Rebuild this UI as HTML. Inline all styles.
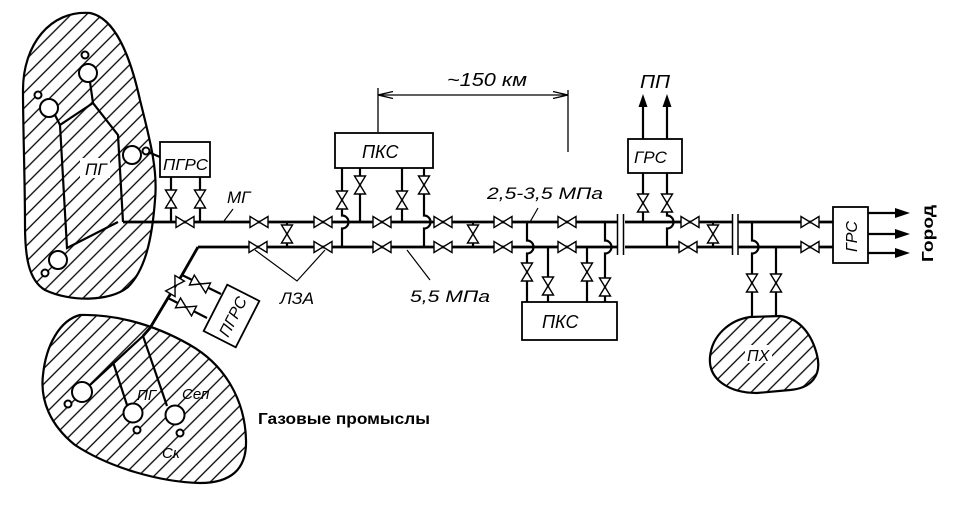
<!DOCTYPE html>
<html><head><meta charset="utf-8"><style>
html,body{margin:0;padding:0;background:#fff;}
svg{display:block;}
text{font-family:"Liberation Sans","DejaVu Sans",sans-serif;fill:#000;}
.i{font-style:italic;}
</style></head><body>
<svg width="960" height="512" viewBox="0 0 960 512" xmlns="http://www.w3.org/2000/svg">
<defs>
<pattern id="h" patternUnits="userSpaceOnUse" width="11" height="11" patternTransform="rotate(45)">
<line x1="5.5" y1="-1" x2="5.5" y2="12" stroke="#000" stroke-width="1.3"/>
</pattern>
<g id="vh"><path d="M-9 -5.5 L0 0 L-9 5.5 Z M9 -5.5 L0 0 L9 5.5 Z" fill="#fff" stroke="#000" stroke-width="1.4"/></g>
<g id="vv"><path d="M-5.5 -9 L0 0 L5.5 -9 Z M-5.5 9 L0 0 L5.5 9 Z" fill="#fff" stroke="#000" stroke-width="1.4"/></g>
</defs>

<!-- Left blob ПГ -->
<path d="M90 13 C115 18,130 55,140 100 C150 140,158 170,155 200 C152 240,145 270,128 287 C110 302,70 302,45 290 C28 280,25 255,25 225 C25 180,23 130,23 90 C23 45,50 10,90 13 Z" fill="url(#h)" stroke="#000" stroke-width="2.2"/>
<g fill="none" stroke="#000" stroke-width="2.2">
<path d="M90 82 L93 103 L118 135 L123 222"/>
<path d="M93 103 L60 125 L67 248 L118 222"/>
<path d="M55 115 L60 125"/>
<line x1="148" y1="152" x2="160" y2="157"/>
</g>
<g fill="#fff" stroke="#000" stroke-width="2">
<circle cx="88" cy="73" r="9"/><circle cx="85" cy="55" r="3.5"/>
<circle cx="49" cy="108" r="9"/><circle cx="38" cy="95" r="3.5"/>
<circle cx="132" cy="155" r="9"/><circle cx="146" cy="151" r="3.5"/>
<circle cx="58" cy="260" r="9"/><circle cx="45" cy="273" r="3.5"/>
</g>
<rect x="80" y="158" width="30" height="20" fill="#fff"/>
<text x="85" y="175" class="i" font-size="17">ПГ</text>

<!-- Top ПГРС -->
<rect x="160" y="142" width="50" height="35" fill="#fff" stroke="#000" stroke-width="1.8"/>
<text x="163" y="170" class="i" font-size="16" textLength="45" lengthAdjust="spacingAndGlyphs">ПГРС</text>
<g stroke="#000" stroke-width="2.2" fill="none">
<path d="M171 177 V222"/><path d="M200 177 V222"/>
</g>

<!-- Main lines -->
<g stroke="#000" stroke-width="2.8" fill="none">
<path d="M123 222 H617 M625 222 H732 M738 222 H833"/>
<path d="M198 247 H617 M625 247 H732 M738 247 H833"/>
<path d="M198 247 L182 275 L168 298 L150 328 L143 336"/>
</g>
<g stroke="#000" stroke-width="1.5" fill="none">
<path d="M617.5 214 V255 M623.5 214 V255 M732.5 214 V255 M738 214 V255"/>
</g>
<!-- cross connections -->
<g stroke="#000" stroke-width="2.2" fill="none">
<path d="M287 222 V247 M473 222 V247 M713 222 V247"/>
</g>

<!-- МГ -->
<text x="227" y="203" class="i" font-size="17">МГ</text>
<path d="M233 209 L224 221" stroke="#000" stroke-width="1.2"/>

<!-- ЛЗА -->
<path d="M255 250 L297 281 L325 250" stroke="#000" stroke-width="1.2" fill="none"/>
<text x="280" y="304" class="i" font-size="17" textLength="34" lengthAdjust="spacingAndGlyphs">ЛЗА</text>

<!-- Top ПКС -->
<rect x="335" y="133" width="98" height="35" fill="#fff" stroke="#000" stroke-width="1.8"/>
<text x="362" y="158" class="i" font-size="18">ПКС</text>
<g stroke="#000" stroke-width="2.2" fill="none">
<path d="M342 168 V215.5 A6.5 6.5 0 0 1 342 228.5 V247"/>
<path d="M360 168 V222"/>
<path d="M402 168 V222"/>
<path d="M424 168 V215.5 A6.5 6.5 0 0 1 424 228.5 V247"/>
</g>

<!-- Dimension -->
<g stroke="#000" stroke-width="1.3" fill="none">
<path d="M378 132 V88 M568 152 V90 M378 95 H568"/>
<path d="M393 91.5 L378 95 L393 98.5 M553 91.5 L568 95 L553 98.5"/>
</g>
<text x="447" y="86" class="i" font-size="18" textLength="80" lengthAdjust="spacingAndGlyphs">~150 км</text>

<!-- pressure labels -->
<text x="487" y="199" class="i" font-size="17" textLength="116" lengthAdjust="spacingAndGlyphs">2,5-3,5 МПа</text>
<path d="M538 208 L530 222" stroke="#000" stroke-width="1.2"/>
<text x="410" y="302" class="i" font-size="17" textLength="80" lengthAdjust="spacingAndGlyphs">5,5 МПа</text>
<path d="M407 250 L430 280" stroke="#000" stroke-width="1.2"/>

<!-- Lower ПКС -->
<rect x="522" y="302" width="95" height="38" fill="#fff" stroke="#000" stroke-width="1.8"/>
<text x="542" y="328" class="i" font-size="18">ПКС</text>
<g stroke="#000" stroke-width="2.2" fill="none">
<path d="M527 222 V240.5 A6.5 6.5 0 0 1 527 253.5 V302"/>
<path d="M548 247 V302"/>
<path d="M587 247 V302"/>
<path d="M605 222 V240.5 A6.5 6.5 0 0 1 605 253.5 V302"/>
</g>

<!-- Top ГРС -->
<rect x="628" y="139" width="54" height="34" fill="#fff" stroke="#000" stroke-width="1.8"/>
<text x="634" y="163" class="i" font-size="17">ГРС</text>
<g stroke="#000" stroke-width="2.2" fill="none">
<path d="M643 173 V222"/>
<path d="M667 173 V215.5 A6.5 6.5 0 0 1 667 228.5 V247"/>
<path d="M643 139 V104 M667 139 V104"/>
</g>
<polygon points="643,94 638.5,107 647.5,107" fill="#000"/>
<polygon points="667,94 662.5,107 671.5,107" fill="#000"/>
<text x="640" y="88" class="i" font-size="18" textLength="30" lengthAdjust="spacingAndGlyphs">ПП</text>

<!-- ПХ -->
<path d="M750 317 C730 320,712 335,710 357 C708 380,730 393,757 393 L790 390 C812 388,822 375,817 355 C812 335,800 318,780 316 Z" fill="url(#h)" stroke="#000" stroke-width="2.2"/>
<g stroke="#000" stroke-width="2.2" fill="none">
<path d="M752 222 V240.5 A6.5 6.5 0 0 1 752 253.5 V317"/>
<path d="M776 247 V317"/>
</g>
<rect x="745" y="345" width="27" height="18" fill="#fff"/>
<text x="747" y="361" class="i" font-size="16">ПХ</text>

<!-- Right ГРС -->
<rect x="833" y="207" width="35" height="56" fill="#fff" stroke="#000" stroke-width="1.8"/>
<text transform="translate(857,252) rotate(-90)" class="i" font-size="16">ГРС</text>
<g stroke="#000" stroke-width="2.2" fill="none">
<path d="M868 213 H898 M868 234 H898 M868 253 H898"/>
</g>
<polygon points="910,213 895,208 895,218" fill="#000"/>
<polygon points="910,234 895,229 895,239" fill="#000"/>
<polygon points="910,253 895,248 895,258" fill="#000"/>
<text transform="translate(933,262) rotate(-90)" font-size="16" font-weight="bold" textLength="57" lengthAdjust="spacingAndGlyphs">Город</text>

<!-- Lower gas field blob -->
<path d="M80 315 C110 314,150 322,190 345 C225 365,245 400,246 440 C247 470,230 483,200 483 C160 482,110 468,75 445 C50 425,40 400,43 375 C46 345,60 320,80 315 Z" fill="url(#h)" stroke="#000" stroke-width="2.2"/>
<g stroke="#000" stroke-width="2.2" fill="none">
<path d="M143 336 L90 385 M113 362 L127 405 M143 336 L167 406"/>
<path d="M182 275 L221 294 M168 298 L207 318"/>
</g>
<g fill="#fff" stroke="#000" stroke-width="2">
<circle cx="82" cy="392" r="10"/><circle cx="68" cy="404" r="3.5"/>
<circle cx="133" cy="413" r="9.5"/><circle cx="137" cy="430" r="3.5"/>
<circle cx="175" cy="415" r="9.5"/><circle cx="180" cy="433" r="3.5"/>
</g>
<text x="137" y="400" class="i" font-size="15">ПГ</text>
<text x="182" y="399" class="i" font-size="15">Сеп</text>
<text x="162" y="458" class="i" font-size="15">Ск</text>

<!-- lower ПГРС rotated -->
<g transform="translate(231.5,316) rotate(-63)">
<rect x="-26" y="-18" width="52" height="36" fill="#fff" stroke="#000" stroke-width="1.8"/>
<text x="0" y="7" class="i" font-size="16" text-anchor="middle">ПГРС</text>
</g>

<text x="258" y="424" font-size="16" font-weight="bold" textLength="172" lengthAdjust="spacingAndGlyphs">Газовые промыслы</text>

<!-- Valves horizontal top line -->
<use href="#vh" x="185" y="222"/>
<use href="#vh" x="259" y="222"/>
<use href="#vh" x="323" y="222"/>
<use href="#vh" x="382" y="222"/>
<use href="#vh" x="443" y="222"/>
<use href="#vh" x="503" y="222"/>
<use href="#vh" x="567" y="222"/>
<use href="#vh" x="690" y="222"/>
<use href="#vh" x="810" y="222"/>
<!-- bottom line -->
<use href="#vh" x="258" y="247"/>
<use href="#vh" x="323" y="247"/>
<use href="#vh" x="382" y="247"/>
<use href="#vh" x="443" y="247"/>
<use href="#vh" x="503" y="247"/>
<use href="#vh" x="567" y="247"/>
<use href="#vh" x="688" y="247"/>
<use href="#vh" x="810" y="247"/>
<!-- vertical valves -->
<use href="#vv" x="171" y="199"/>
<use href="#vv" x="200" y="199"/>
<use href="#vv" x="287" y="234"/>
<use href="#vv" x="473" y="234"/>
<use href="#vv" x="713" y="234"/>
<use href="#vv" x="342" y="200"/>
<use href="#vv" x="360" y="185"/>
<use href="#vv" x="402" y="200"/>
<use href="#vv" x="424" y="185"/>
<use href="#vv" x="527" y="272"/>
<use href="#vv" x="548" y="286"/>
<use href="#vv" x="587" y="272"/>
<use href="#vv" x="605" y="287"/>
<use href="#vv" x="643" y="203"/>
<use href="#vv" x="667" y="203"/>
<use href="#vv" x="752" y="283"/>
<use href="#vv" x="776" y="283"/>
<!-- diagonal valves -->
<use href="#vh" transform="translate(175,286) rotate(121)"/>
<use href="#vh" transform="translate(200,284) rotate(26)"/>
<use href="#vh" transform="translate(186,307) rotate(27)"/>
</svg>
</body></html>
